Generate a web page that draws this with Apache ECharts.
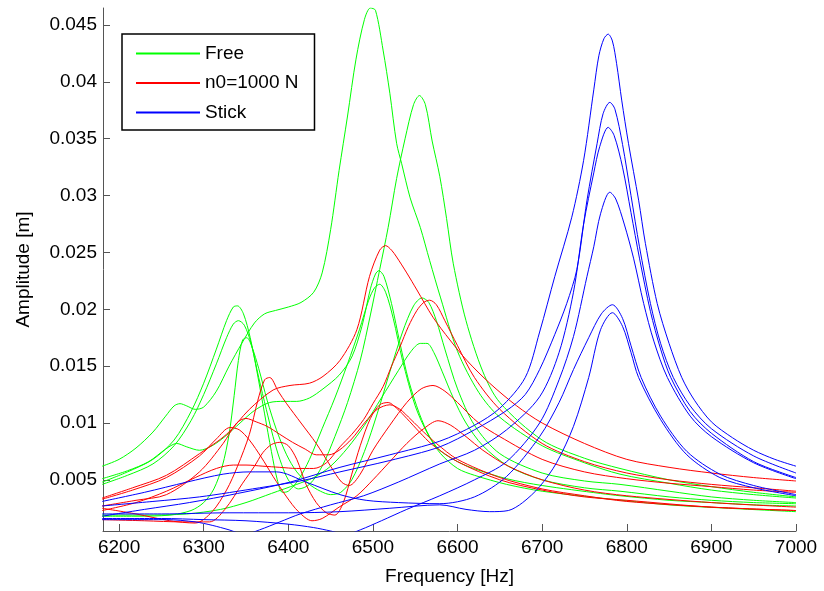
<!DOCTYPE html>
<html><head><meta charset="utf-8">
<script src="https://cdn.jsdelivr.net/npm/echarts@6/dist/echarts.min.js"></script>
<style>html,body{margin:0;padding:0;background:#fff}#c{width:824px;height:591px}</style>
</head><body><div id="c"></div>
<script>
// ---- tick labels ----
const xTicks = [6200, 6300, 6400, 6500, 6600, 6700, 6800, 6900, 7000];
const yTicks = [0.005, 0.01, 0.015, 0.02, 0.025, 0.03, 0.035, 0.04, 0.045];
const legendNames = ['Free', 'n0=1000 N', 'Stick'];

// ---- Free (green) curves: [frequency Hz, amplitude m] ----
const free1 = [[6180,0.0062],[6200,0.0068],[6220,0.0078],[6240,0.0092],[6255,0.0106],[6265,0.0115],[6272,0.0117],[6280,0.0115],[6290,0.0112],[6300,0.0114],[6315,0.0128],[6330,0.0150],[6345,0.0170],[6360,0.0188],[6372,0.0196],[6385,0.0199],[6400,0.0202],[6415,0.0206],[6430,0.0215],[6440,0.0232],[6450,0.0270],[6460,0.0322],[6470,0.0370],[6480,0.0420],[6490,0.0455],[6497,0.0465],[6503,0.0463],[6512,0.0428],[6520,0.0390],[6528,0.0346],[6534,0.0328],[6544,0.0298],[6556,0.0272],[6567,0.0243],[6580,0.0210],[6600,0.0163],[6625,0.0127],[6650,0.0105],[6700,0.0080],[6750,0.0065],[6792,0.0055],[6850,0.0047],[6900,0.0041],[6950,0.0037],[7000,0.0034]];
const free2 = [[6180,0.0051],[6210,0.0058],[6235,0.0066],[6255,0.0077],[6268,0.0082],[6280,0.0079],[6295,0.0076],[6310,0.0080],[6325,0.0088],[6343,0.0100],[6360,0.0111],[6378,0.0118],[6395,0.0119],[6410,0.0119],[6425,0.0122],[6441,0.0130],[6460,0.0142],[6475,0.0158],[6487,0.0185],[6497,0.0218],[6503,0.0231],[6507,0.0234],[6513,0.0229],[6522,0.0205],[6532,0.0170],[6542,0.0138],[6555,0.0108],[6567,0.0088],[6579,0.0076],[6600,0.0066],[6619,0.0060],[6658,0.0051],[6700,0.0045],[6769,0.0038],[6792,0.0036],[6850,0.0032],[6900,0.0030],[6950,0.0028],[7000,0.0027]];
const free3 = [[6180,0.0048],[6210,0.0057],[6240,0.0068],[6265,0.0085],[6285,0.0110],[6300,0.0135],[6315,0.0165],[6327,0.0190],[6335,0.0202],[6340,0.0203],[6347,0.0196],[6355,0.0175],[6363,0.0145],[6372,0.0108],[6380,0.0075],[6387,0.0050],[6393,0.0039],[6400,0.0040],[6412,0.0050],[6425,0.0068],[6440,0.0095],[6455,0.0122],[6470,0.0152],[6484,0.0182],[6495,0.0208],[6502,0.0219],[6508,0.0222],[6515,0.0215],[6524,0.0192],[6535,0.0155],[6550,0.0115],[6565,0.0090],[6580,0.0073],[6600,0.0060],[6620,0.0054],[6658,0.0046],[6700,0.0040],[6769,0.0034],[6850,0.0028],[6920,0.0025],[7000,0.0022]];
const free4 = [[6180,0.0046],[6210,0.0054],[6240,0.0064],[6265,0.0080],[6285,0.0102],[6300,0.0125],[6315,0.0152],[6327,0.0175],[6335,0.0187],[6341,0.0190],[6348,0.0186],[6356,0.0170],[6365,0.0140],[6374,0.0112],[6382,0.0088],[6390,0.0068],[6400,0.0050],[6412,0.0042],[6425,0.0046],[6440,0.0062],[6455,0.0088],[6470,0.0118],[6485,0.0155],[6497,0.0195],[6508,0.0235],[6518,0.0272],[6528,0.0315],[6538,0.0350],[6548,0.0380],[6555,0.0388],[6562,0.0380],[6570,0.0348],[6579,0.0317],[6587,0.0280],[6595,0.0240],[6610,0.0190],[6630,0.0145],[6650,0.0118],[6700,0.0085],[6750,0.0069],[6792,0.0060],[6850,0.0050],[6900,0.0044],[6950,0.0039],[7000,0.0035]];
const free5 = [[6180,0.0018],[6220,0.0018],[6260,0.0019],[6285,0.0023],[6300,0.0030],[6312,0.0042],[6322,0.0062],[6330,0.0090],[6336,0.0124],[6341,0.0155],[6346,0.0173],[6351,0.0175],[6357,0.0167],[6365,0.0148],[6375,0.0120],[6386,0.0094],[6398,0.0072],[6410,0.0057],[6425,0.0046],[6438,0.0040],[6450,0.0037],[6462,0.0039],[6475,0.0050],[6490,0.0075],[6505,0.0108],[6520,0.0145],[6535,0.0180],[6548,0.0203],[6558,0.0210],[6566,0.0206],[6575,0.0190],[6585,0.0165],[6600,0.0130],[6620,0.0098],[6650,0.0073],[6700,0.0056],[6750,0.0049],[6792,0.0046],[6850,0.0040],[6900,0.0035],[6950,0.0032],[7000,0.0030]];
const free6 = [[6180,0.0019],[6230,0.0019],[6280,0.0020],[6320,0.0024],[6350,0.0030],[6380,0.0038],[6410,0.0046],[6430,0.0052],[6450,0.0062],[6470,0.0078],[6490,0.0098],[6510,0.0122],[6530,0.0146],[6545,0.0163],[6556,0.0170],[6564,0.0170],[6572,0.0162],[6582,0.0145],[6595,0.0122],[6610,0.0100],[6630,0.0080],[6660,0.0062],[6700,0.0050],[6750,0.0043],[6792,0.0040],[6850,0.0035],[6900,0.0032],[6950,0.0030],[7000,0.0029]];

// ---- n0=1000 N (red) curves ----
const n0_1 = [[6180,0.0034],[6216,0.0043],[6256,0.0054],[6295,0.0073],[6327,0.0090],[6354,0.0112],[6382,0.0129],[6402,0.0133],[6425,0.0135],[6441,0.0141],[6461,0.0155],[6481,0.0182],[6496,0.0229],[6508,0.0252],[6515,0.0256],[6522,0.0252],[6528,0.0246],[6540,0.0232],[6552,0.0217],[6571,0.0193],[6591,0.0173],[6611,0.0155],[6638,0.0135],[6670,0.0115],[6700,0.0100],[6750,0.0082],[6800,0.0068],[6850,0.0061],[6900,0.0056],[6950,0.0052],[7000,0.0049]];
const n0_2 = [[6180,0.0033],[6216,0.0041],[6256,0.0052],[6295,0.0071],[6315,0.0086],[6331,0.0096],[6342,0.0094],[6354,0.0085],[6368,0.0070],[6382,0.0053],[6398,0.0035],[6412,0.0022],[6428,0.0014],[6440,0.0016],[6460,0.0026],[6481,0.0036],[6500,0.0050],[6520,0.0066],[6540,0.0082],[6560,0.0095],[6577,0.0102],[6592,0.0098],[6610,0.0088],[6630,0.0076],[6660,0.0062],[6700,0.0050],[6750,0.0041],[6800,0.0036],[6900,0.0030],[7000,0.0026]];
const n0_3 = [[6180,0.0027],[6220,0.0032],[6256,0.0037],[6295,0.0057],[6323,0.0082],[6339,0.0100],[6350,0.0104],[6362,0.0101],[6375,0.0097],[6390,0.0090],[6405,0.0083],[6420,0.0077],[6433,0.0072],[6448,0.0072],[6460,0.0076],[6475,0.0086],[6490,0.0100],[6505,0.0112],[6520,0.0116],[6532,0.0112],[6545,0.0103],[6560,0.0092],[6575,0.0082],[6600,0.0068],[6650,0.0052],[6700,0.0042],[6750,0.0036],[6800,0.0031],[6900,0.0026],[7000,0.0023]];
const n0_4 = [[6180,0.0025],[6220,0.0020],[6260,0.0014],[6290,0.0012],[6310,0.0022],[6327,0.0041],[6340,0.0062],[6354,0.0090],[6364,0.0120],[6372,0.0138],[6378,0.0140],[6388,0.0128],[6398,0.0117],[6415,0.0100],[6433,0.0082],[6450,0.0062],[6463,0.0048],[6472,0.0045],[6485,0.0055],[6500,0.0076],[6520,0.0098],[6540,0.0118],[6557,0.0130],[6571,0.0133],[6585,0.0128],[6600,0.0118],[6625,0.0100],[6650,0.0088],[6700,0.0068],[6750,0.0057],[6800,0.0051],[6850,0.0047],[6900,0.0044],[6950,0.0041],[7000,0.0039]];
const n0_5 = [[6180,0.0015],[6230,0.0014],[6275,0.0013],[6307,0.0013],[6325,0.0024],[6346,0.0047],[6360,0.0062],[6370,0.0074],[6380,0.0081],[6390,0.0083],[6400,0.0080],[6410,0.0068],[6421,0.0046],[6433,0.0030],[6445,0.0021],[6455,0.0019],[6465,0.0030],[6475,0.0055],[6485,0.0080],[6497,0.0104],[6508,0.0116],[6518,0.0118],[6528,0.0113],[6540,0.0104],[6555,0.0092],[6570,0.0081],[6600,0.0066],[6650,0.0050],[6700,0.0041],[6750,0.0035],[6800,0.0032],[6900,0.0026],[7000,0.0023]];
const n0_6 = [[6180,0.0023],[6220,0.0030],[6256,0.0040],[6290,0.0052],[6315,0.0060],[6335,0.0063],[6350,0.0063],[6370,0.0062],[6390,0.0061],[6410,0.0060],[6430,0.0060],[6445,0.0065],[6461,0.0079],[6475,0.0090],[6489,0.0103],[6500,0.0117],[6512,0.0132],[6522,0.0150],[6532,0.0167],[6542,0.0185],[6552,0.0199],[6560,0.0206],[6567,0.0208],[6575,0.0204],[6585,0.0190],[6600,0.0168],[6620,0.0140],[6650,0.0112],[6700,0.0082],[6750,0.0066],[6800,0.0056],[6850,0.0050],[6900,0.0046],[6950,0.0043],[7000,0.0040]];

// ---- Stick (blue) curves ----
const stick1 = [[6180,0.0018],[6230,0.0024],[6283,0.0030],[6340,0.0038],[6402,0.0048],[6461,0.0061],[6520,0.0072],[6579,0.0084],[6620,0.0098],[6650,0.0113],[6680,0.0140],[6697,0.0180],[6715,0.0229],[6735,0.0281],[6749,0.0331],[6761,0.0393],[6767,0.0423],[6773,0.0438],[6778,0.0442],[6783,0.0436],[6788,0.0416],[6794,0.0384],[6802,0.0346],[6814,0.0296],[6822,0.0258],[6836,0.0205],[6850,0.0170],[6865,0.0140],[6880,0.0120],[6900,0.0101],[6925,0.0087],[6950,0.0076],[6975,0.0068],[7000,0.0062]];
const stick2 = [[6180,0.0027],[6240,0.0031],[6295,0.0035],[6366,0.0043],[6414,0.0049],[6461,0.0057],[6520,0.0067],[6579,0.0079],[6620,0.0094],[6658,0.0111],[6680,0.0125],[6697,0.0147],[6715,0.0178],[6729,0.0205],[6741,0.0235],[6753,0.0296],[6765,0.0346],[6772,0.0372],[6780,0.0382],[6786,0.0376],[6795,0.0345],[6805,0.0300],[6815,0.0255],[6828,0.0205],[6840,0.0170],[6855,0.0140],[6875,0.0115],[6900,0.0095],[6950,0.0071],[7000,0.0056]];
const stick3 = [[6180,0.0015],[6256,0.0015],[6290,0.0013],[6310,0.0010],[6330,0.0006],[6348,0.0002],[6366,0.0006],[6390,0.0013],[6414,0.0020],[6450,0.0028],[6489,0.0036],[6530,0.0048],[6579,0.0064],[6620,0.0076],[6658,0.0094],[6697,0.0123],[6720,0.0162],[6737,0.0215],[6749,0.0275],[6761,0.0320],[6768,0.0343],[6778,0.0360],[6785,0.0353],[6795,0.0325],[6805,0.0285],[6815,0.0245],[6828,0.0198],[6840,0.0165],[6852,0.0140],[6875,0.0110],[6900,0.0091],[6950,0.0066],[7000,0.0052]];
const stick4 = [[6180,0.0016],[6250,0.0016],[6300,0.0015],[6350,0.0014],[6400,0.0011],[6430,0.0008],[6450,0.0005],[6468,0.0002],[6485,0.0006],[6510,0.0014],[6540,0.0024],[6579,0.0036],[6620,0.0050],[6658,0.0066],[6697,0.0100],[6720,0.0138],[6737,0.0176],[6753,0.0229],[6761,0.0255],[6769,0.0284],[6780,0.0303],[6787,0.0297],[6797,0.0275],[6808,0.0245],[6820,0.0205],[6832,0.0172],[6848,0.0140],[6875,0.0106],[6900,0.0088],[6950,0.0065],[7000,0.0051]];
const stick5 = [[6180,0.0031],[6230,0.0039],[6280,0.0048],[6323,0.0055],[6354,0.0057],[6386,0.0057],[6421,0.0048],[6461,0.0037],[6492,0.0032],[6530,0.0030],[6579,0.0029],[6620,0.0035],[6658,0.0053],[6697,0.0088],[6720,0.0118],[6737,0.0147],[6755,0.0175],[6770,0.0196],[6783,0.0204],[6795,0.0192],[6805,0.0168],[6817,0.0140],[6840,0.0106],[6871,0.0075],[6910,0.0055],[6950,0.0045],[7000,0.0037]];
const stick6 = [[6180,0.0020],[6250,0.0020],[6330,0.0021],[6400,0.0021],[6461,0.0022],[6520,0.0025],[6579,0.0028],[6610,0.0024],[6638,0.0022],[6660,0.0023],[6677,0.0030],[6697,0.0044],[6717,0.0065],[6737,0.0097],[6755,0.0140],[6769,0.0182],[6783,0.0197],[6795,0.0185],[6805,0.0162],[6814,0.0140],[6840,0.0103],[6871,0.0072],[6910,0.0052],[6950,0.0043],[7000,0.0036]];

const groups = [
  { name: legendNames[0], color: '#00ff00', curves: [free1, free2, free3, free4, free5, free6] },
  { name: legendNames[1], color: '#ff0000', curves: [n0_1, n0_2, n0_3, n0_4, n0_5, n0_6] },
  { name: legendNames[2], color: '#0000ff', curves: [stick1, stick2, stick3, stick4, stick5, stick6] }
];

const series = [];
groups.forEach(g => {
  g.curves.forEach(c => {
    series.push({
      name: g.name, type: 'line', data: c, symbol: 'none', showSymbol: false,
      smooth: 0.3, clip: true, animation: false,
      lineStyle: { color: g.color, width: 1 }, itemStyle: { color: g.color },
      emphasis: { disabled: true }
    });
  });
});

const FONT = '"Liberation Sans", Arial, Helvetica, sans-serif';
const chart = echarts.init(document.getElementById('c'), null, { renderer: 'canvas' });
chart.setOption({
  backgroundColor: '#fff',
  animation: false,
  grid: { left: 103, right: 28, top: 8, bottom: 60, containLabel: false },
  legend: {
    data: legendNames, orient: 'vertical', left: 122, top: 34,
    itemWidth: 64, itemHeight: 14, itemGap: 10.5,
    padding: [10, 16, 8, 13],
    itemStyle: { opacity: 0 },
    borderColor: '#000', borderWidth: 1.5, backgroundColor: '#fff',
    textStyle: { fontSize: 19, color: '#000', fontFamily: FONT },
    selectedMode: false, z: 10
  },
  xAxis: {
    type: 'value', min: 6181, max: 7000,
    name: 'Frequency [Hz]', nameLocation: 'middle', nameGap: 36,
    nameTextStyle: { fontSize: 19, color: '#000', fontFamily: FONT },
    axisLine: { show: true, lineStyle: { color: '#555', width: 1 } },
    axisTick: { show: true, inside: true, length: 7, customValues: xTicks, lineStyle: { color: '#555' } },
    axisLabel: { show: true, customValues: xTicks, margin: 7, fontSize: 19, color: '#000', fontFamily: FONT,
      formatter: v => String(v) },
    splitLine: { show: false }
  },
  yAxis: {
    type: 'value', min: 0.0005, max: 0.0465,
    name: 'Amplitude [m]', nameLocation: 'middle', nameGap: 70,
    nameTextStyle: { fontSize: 19, color: '#000', fontFamily: FONT },
    axisLine: { show: true, lineStyle: { color: '#555', width: 1 } },
    axisTick: { show: true, inside: true, length: 7, customValues: yTicks, lineStyle: { color: '#555' } },
    axisLabel: { show: true, customValues: yTicks, margin: 6, fontSize: 19, color: '#000', fontFamily: FONT,
      formatter: v => String(Math.round(v * 1000) / 1000) },
    splitLine: { show: false }
  },
  series: series
});
</script>
</body></html>
